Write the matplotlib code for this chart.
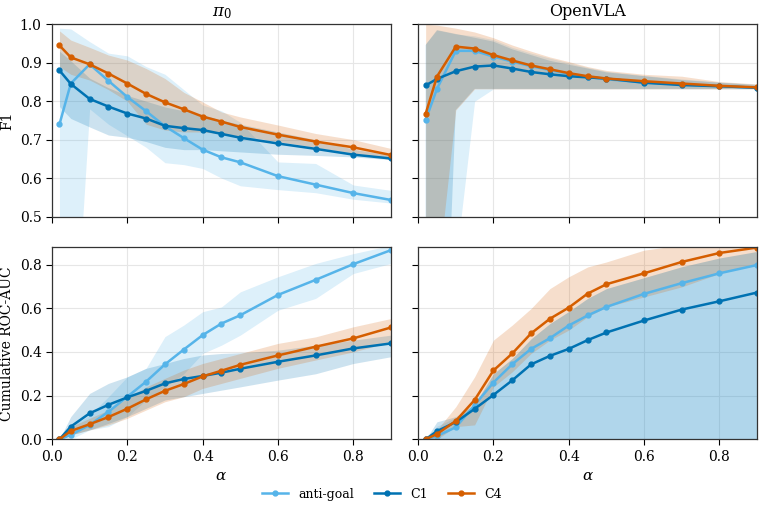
import numpy as np
import matplotlib
matplotlib.use("Agg")
import matplotlib.pyplot as plt

plt.rcParams["font.family"] = "DejaVu Serif"
plt.rcParams["mathtext.fontset"] = "dejavuserif"

alpha_vals = [0.02, 0.05, 0.1, 0.15, 0.2, 0.25, 0.3, 0.35, 0.4, 0.45, 0.5, 0.6, 0.7, 0.8, 0.9]
methods = ["anti-goal", "C1", "C4"]
colors = {"anti-goal": "#56B4E9", "C1": "#0072B2", "C4": "#D55E00"}

# ---- pi_0, F1 ----
pi0_f1_anti = [0.740, 0.846, 0.896, 0.853, 0.811, 0.774, 0.735, 0.704, 0.674, 0.654, 0.641, 0.605, 0.583, 0.561, 0.543]
pi0_f1_anti_lo = [-0.05, 0.0, 0.78, 0.74, 0.71, 0.68, 0.64, 0.635, 0.625, 0.60, 0.58, 0.57, 0.562, 0.545, 0.535]
pi0_f1_anti_hi = [0.99, 0.988, 0.955, 0.925, 0.918, 0.89, 0.87, 0.83, 0.79, 0.775, 0.745, 0.642, 0.638, 0.582, 0.568]
pi0_f1_c1 = [0.880, 0.845, 0.806, 0.786, 0.768, 0.755, 0.736, 0.730, 0.725, 0.715, 0.705, 0.690, 0.676, 0.661, 0.651]
pi0_f1_c1_lo = [0.786, 0.755, 0.733, 0.712, 0.706, 0.695, 0.68, 0.674, 0.674, 0.671, 0.668, 0.662, 0.659, 0.655, 0.648]
pi0_f1_c1_hi = [0.93, 0.905, 0.86, 0.835, 0.815, 0.80, 0.785, 0.775, 0.765, 0.75, 0.74, 0.72, 0.70, 0.675, 0.66]
pi0_f1_c4 = [0.945, 0.914, 0.896, 0.872, 0.846, 0.819, 0.797, 0.779, 0.760, 0.747, 0.733, 0.713, 0.695, 0.680, 0.660]
pi0_f1_c4_lo = [0.89, 0.87, 0.855, 0.83, 0.80, 0.74, 0.725, 0.72, 0.72, 0.715, 0.71, 0.695, 0.68, 0.665, 0.648]
pi0_f1_c4_hi = [0.983, 0.959, 0.94, 0.92, 0.907, 0.885, 0.859, 0.823, 0.798, 0.772, 0.759, 0.738, 0.716, 0.70, 0.677]

# ---- OpenVLA, F1 ----
vla_f1_anti = [0.751, 0.832, 0.931, 0.931, 0.916, 0.903, 0.891, 0.881, 0.871, 0.863, 0.857, 0.849, 0.844, 0.839, 0.835]
vla_f1_anti_lo = [0.0, 0.0, 0.38, 0.80, 0.832, 0.832, 0.832, 0.832, 0.832, 0.832, 0.832, 0.832, 0.832, 0.832, 0.832]
vla_f1_anti_hi = [0.95, 0.985, 0.975, 0.97, 0.96, 0.94, 0.925, 0.912, 0.90, 0.888, 0.878, 0.867, 0.858, 0.85, 0.844]
vla_f1_c1 = [0.841, 0.858, 0.878, 0.890, 0.893, 0.885, 0.876, 0.870, 0.865, 0.862, 0.859, 0.848, 0.842, 0.839, 0.835]
vla_f1_c1_lo = [0.0, -0.45, 0.777, 0.832, 0.832, 0.832, 0.832, 0.832, 0.832, 0.832, 0.832, 0.832, 0.832, 0.832, 0.832]
vla_f1_c1_hi = [0.946, 0.985, 0.975, 0.965, 0.955, 0.935, 0.92, 0.905, 0.895, 0.885, 0.875, 0.865, 0.855, 0.848, 0.842]
vla_f1_c4 = [0.767, 0.864, 0.942, 0.937, 0.920, 0.906, 0.893, 0.883, 0.873, 0.865, 0.859, 0.852, 0.846, 0.840, 0.836]
vla_f1_c4_lo = [0.0, 0.33, 0.777, 0.832, 0.832, 0.832, 0.832, 0.832, 0.832, 0.832, 0.832, 0.832, 0.832, 0.832, 0.832]
vla_f1_c4_hi = [1.0, 0.998, 0.99, 0.98, 0.965, 0.946, 0.93, 0.915, 0.903, 0.89, 0.88, 0.87, 0.865, 0.851, 0.845]

# ---- pi_0, cumulative ROC-AUC ----
pi0_auc_anti = [0.0, 0.020, 0.066, 0.126, 0.195, 0.264, 0.343, 0.411, 0.477, 0.530, 0.568, 0.661, 0.730, 0.802, 0.866]
pi0_auc_anti_lo = [0.0, 0.0, 0.043, 0.058, 0.104, 0.18, 0.24, 0.30, 0.393, 0.431, 0.477, 0.591, 0.645, 0.759, 0.805]
pi0_auc_anti_hi = [0.0, 0.058, 0.11, 0.195, 0.286, 0.325, 0.47, 0.523, 0.584, 0.606, 0.675, 0.744, 0.805, 0.85, 0.888]
pi0_auc_c1 = [0.0, 0.058, 0.119, 0.158, 0.192, 0.222, 0.256, 0.276, 0.290, 0.305, 0.323, 0.355, 0.384, 0.416, 0.439]
pi0_auc_c1_lo = [0.0, 0.02, 0.043, 0.073, 0.104, 0.142, 0.18, 0.195, 0.21, 0.225, 0.24, 0.271, 0.30, 0.347, 0.378]
pi0_auc_c1_hi = [0.0, 0.104, 0.21, 0.256, 0.286, 0.325, 0.347, 0.37, 0.386, 0.393, 0.396, 0.408, 0.431, 0.454, 0.477]
pi0_auc_c4 = [0.0, 0.038, 0.069, 0.102, 0.140, 0.183, 0.222, 0.253, 0.288, 0.314, 0.341, 0.384, 0.424, 0.462, 0.512]
pi0_auc_c4_lo = [0.0, 0.02, 0.043, 0.066, 0.096, 0.134, 0.172, 0.195, 0.233, 0.256, 0.279, 0.325, 0.363, 0.40, 0.446]
pi0_auc_c4_hi = [0.0, 0.058, 0.096, 0.134, 0.187, 0.24, 0.279, 0.317, 0.347, 0.37, 0.393, 0.439, 0.469, 0.515, 0.553]

# ---- OpenVLA, cumulative ROC-AUC ----
vla_auc_anti = [0.0, 0.015, 0.055, 0.157, 0.260, 0.344, 0.414, 0.463, 0.521, 0.567, 0.606, 0.666, 0.715, 0.760, 0.798]
vla_auc_anti_lo = [0.0, 0.0, 0.0, 0.0, 0.0, 0.0, 0.0, 0.0, 0.0, 0.0, 0.0, 0.0, 0.0, 0.0, 0.0]
vla_auc_anti_hi = [0.0, 0.06, 0.10, 0.16, 0.30, 0.37, 0.46, 0.53, 0.585, 0.645, 0.69, 0.74, 0.79, 0.83, 0.86]
vla_auc_c1 = [0.0, 0.037, 0.079, 0.139, 0.203, 0.270, 0.343, 0.382, 0.414, 0.454, 0.489, 0.544, 0.594, 0.632, 0.672]
vla_auc_c1_lo = [0.0, 0.0, 0.0, 0.0, 0.0, 0.0, 0.0, 0.0, 0.0, 0.0, 0.0, 0.0, 0.0, 0.0, 0.0]
vla_auc_c1_hi = [0.0, 0.08, 0.104, 0.16, 0.30, 0.37, 0.46, 0.53, 0.585, 0.645, 0.69, 0.74, 0.79, 0.83, 0.86]
vla_auc_c4 = [0.0, 0.024, 0.084, 0.180, 0.315, 0.393, 0.485, 0.552, 0.603, 0.667, 0.710, 0.760, 0.812, 0.853, 0.878]
vla_auc_c4_lo = [0.0, 0.0, 0.058, 0.066, 0.24, 0.309, 0.393, 0.454, 0.50, 0.561, 0.606, 0.652, 0.698, 0.759, 0.805]
vla_auc_c4_hi = [0.0, 0.043, 0.149, 0.286, 0.454, 0.523, 0.599, 0.69, 0.744, 0.789, 0.812, 0.866, 0.89, 0.90, 0.90]

panels = [
    [
        {"anti-goal": (pi0_f1_anti, pi0_f1_anti_lo, pi0_f1_anti_hi),
         "C1": (pi0_f1_c1, pi0_f1_c1_lo, pi0_f1_c1_hi),
         "C4": (pi0_f1_c4, pi0_f1_c4_lo, pi0_f1_c4_hi)},
        {"anti-goal": (vla_f1_anti, vla_f1_anti_lo, vla_f1_anti_hi),
         "C1": (vla_f1_c1, vla_f1_c1_lo, vla_f1_c1_hi),
         "C4": (vla_f1_c4, vla_f1_c4_lo, vla_f1_c4_hi)},
    ],
    [
        {"anti-goal": (pi0_auc_anti, pi0_auc_anti_lo, pi0_auc_anti_hi),
         "C1": (pi0_auc_c1, pi0_auc_c1_lo, pi0_auc_c1_hi),
         "C4": (pi0_auc_c4, pi0_auc_c4_lo, pi0_auc_c4_hi)},
        {"anti-goal": (vla_auc_anti, vla_auc_anti_lo, vla_auc_anti_hi),
         "C1": (vla_auc_c1, vla_auc_c1_lo, vla_auc_c1_hi),
         "C4": (vla_auc_c4, vla_auc_c4_lo, vla_auc_c4_hi)},
    ],
]

fig, axes = plt.subplots(2, 2, figsize=(7.64, 5.12), dpi=100, sharex=True, sharey="row")
fig.subplots_adjust(left=0.068, right=0.991, top=0.9525, bottom=0.142, wspace=0.08, hspace=0.159)

for r in range(2):
    for c in range(2):
        ax = axes[r, c]
        for m in methods:
            mean, lo, hi = panels[r][c][m]
            ax.fill_between(alpha_vals, lo, hi, color=colors[m], alpha=0.2, linewidth=0)
            ax.plot(alpha_vals, mean, color=colors[m], marker="o", markersize=3.5,
                    linewidth=1.8, label=m)
        ax.grid(True, color="#e6e6e6", linewidth=0.8)
        ax.set_axisbelow(True)
        ax.tick_params(labelsize=10, direction="out", length=4, width=0.8)
        for s in ax.spines.values():
            s.set_color("#333333")
            s.set_linewidth(0.9)

axes[0, 0].set_ylim(0.5, 1.0)
axes[0, 0].set_yticks([0.5, 0.6, 0.7, 0.8, 0.9, 1.0])
axes[1, 0].set_ylim(0.0, 0.88)
axes[1, 0].set_yticks([0.0, 0.2, 0.4, 0.6, 0.8])
axes[1, 0].set_xlim(0.0, 0.9)
axes[1, 0].set_xticks([0.0, 0.2, 0.4, 0.6, 0.8])

axes[0, 0].set_title(r"$\pi_0$", fontsize=12)
axes[0, 1].set_title("OpenVLA", fontsize=11.5)
axes[0, 0].set_ylabel("F1", fontsize=10)
axes[1, 0].set_ylabel("Cumulative ROC-AUC", fontsize=10)
axes[1, 0].set_xlabel(r"$\alpha$", fontsize=11)
axes[1, 1].set_xlabel(r"$\alpha$", fontsize=11)

handles, labels = axes[0, 0].get_legend_handles_labels()
fig.legend(handles, labels, loc="center", bbox_to_anchor=(0.5, 0.035), ncol=3,
           frameon=False, fontsize=9, handlelength=2.1, columnspacing=1.6)

fig.savefig("out.png", dpi=100)
